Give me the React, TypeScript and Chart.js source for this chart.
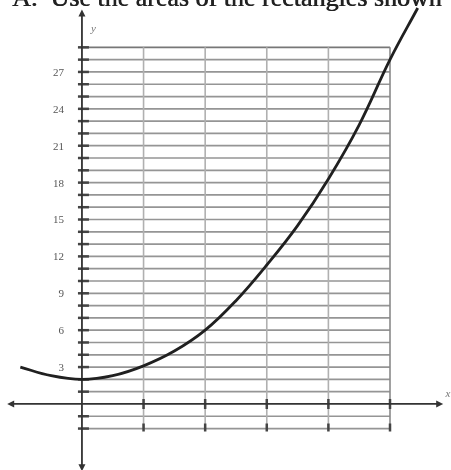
import React, { useEffect, useRef } from "react";
import { Chart, registerables } from "chart.js";

Chart.register(...registerables);

// Curve values
const curveX = [-1, -0.5, 0, 0.5, 1, 1.5, 2, 2.5, 3, 3.5, 4, 4.5, 5, 5.45];
const curveY = [3.0, 2.3, 2.0, 2.3, 3.1, 4.3, 6.0, 8.4, 11.3, 14.5, 18.3, 22.7, 28.0, 32.2];

// Graph-paper grid and ticks
const gridXValues = [0, 1, 2, 3, 4, 5];
const gridYValues = Array.from({ length: 32 }, (_, i) => i - 2); // -2 .. 29
const yTickLabels = [3, 6, 9, 12, 15, 18, 21, 24, 27];
const xTickValues = [1, 2, 3, 4, 5];
const titleText = "A.  Use the areas of the rectangles shown";

const paperPlugin = {
  id: "paper",
  beforeDatasetsDraw(chart: any) {
    const ctx = chart.ctx;
    const xs = chart.scales.x;
    const ys = chart.scales.y;
    const X = (v: number) => xs.getPixelForValue(v);
    const Y = (v: number) => ys.getPixelForValue(v);
    ctx.save();
    ctx.fillStyle = "#ffffff";
    ctx.fillRect(0, 0, chart.width, chart.height);
    ctx.filter = "blur(0.5px)";

    // title (cut off at the top)
    ctx.fillStyle = "#222";
    ctx.font = "26px 'Liberation Serif'";
    ctx.textAlign = "left";
    ctx.textBaseline = "alphabetic";
    ctx.fillText(titleText, 12, 6);
    ctx.fillText(titleText, 12.6, 6);

    const gx0 = X(gridXValues[0]);
    const gx1 = X(gridXValues[gridXValues.length - 1]);
    const gy0 = Y(gridYValues[0]);
    const gy1 = Y(gridYValues[gridYValues.length - 1]);

    // horizontal lines
    gridYValues.forEach((v, i) => {
      if (v === 0) return;
      const y = Y(v);
      ctx.strokeStyle = i === gridYValues.length - 1 ? "#777" : "#959595";
      ctx.lineWidth = 1.7;
      ctx.beginPath();
      ctx.moveTo(gx0, y);
      ctx.lineTo(gx1, y);
      ctx.stroke();
      // dark tick on the y-axis
      ctx.strokeStyle = "#444";
      ctx.lineWidth = 2.5;
      ctx.beginPath();
      ctx.moveTo(X(0) - 4, y);
      ctx.lineTo(X(0) + 7, y);
      ctx.stroke();
    });

    // vertical lines
    gridXValues.forEach((v, i) => {
      if (v === 0) return;
      const x = X(v);
      ctx.strokeStyle = i === gridXValues.length - 1 ? "#8a8a8a" : "#b0b0b0";
      ctx.lineWidth = 1.6;
      ctx.beginPath();
      ctx.moveTo(x, gy0);
      ctx.lineTo(x, gy1);
      ctx.stroke();
    });

    // x ticks
    ctx.strokeStyle = "#444";
    ctx.lineWidth = 2.5;
    xTickValues.forEach((v) => {
      const x = X(v);
      ctx.beginPath();
      ctx.moveTo(x, Y(0) - 5);
      ctx.lineTo(x, Y(0) + 5);
      ctx.moveTo(x, Y(-2) - 5);
      ctx.lineTo(x, Y(-2) + 3);
      ctx.stroke();
    });

    // axes
    ctx.strokeStyle = "#333";
    ctx.lineWidth = 1.8;
    ctx.beginPath();
    ctx.moveTo(X(-1.12), Y(0));
    ctx.lineTo(X(5.78), Y(0));
    ctx.moveTo(X(0), Y(-5));
    ctx.lineTo(X(0), Y(31.7));
    ctx.stroke();

    // arrow heads
    ctx.fillStyle = "#333";
    const arrow = (x: number, y: number, dx: number, dy: number) => {
      const px = -dy, py = dx;
      ctx.beginPath();
      ctx.moveTo(x + dx * 7, y + dy * 7);
      ctx.lineTo(x + px * 3.5, y + py * 3.5);
      ctx.lineTo(x - px * 3.5, y - py * 3.5);
      ctx.closePath();
      ctx.fill();
    };
    arrow(X(-1.1), Y(0), -1, 0);
    arrow(X(5.75), Y(0), 1, 0);
    arrow(X(0), Y(31.5), 0, -1);
    arrow(X(0), Y(-4.9), 0, 1);

    // y tick labels
    ctx.fillStyle = "#555";
    ctx.font = "11px 'Liberation Serif'";
    ctx.textAlign = "right";
    ctx.textBaseline = "middle";
    yTickLabels.forEach((v) => {
      ctx.fillText(String(v), X(0) - 18, Y(v) + 1);
    });

    // axis names
    ctx.font = "italic 11px 'Liberation Serif'";
    ctx.textAlign = "left";
    ctx.fillStyle = "#777";
    ctx.fillText("y", X(0) + 9, Y(30.5));
    ctx.fillText("x", X(5.9), Y(0.8));

    ctx.restore();
  },
};

export default function App() {
  const ref = useRef<HTMLCanvasElement | null>(null);
  useEffect(() => {
    document.body.style.margin = "0";
    if (!ref.current) return;
    const chart = new Chart(ref.current, {
      type: "scatter",
      data: {
        datasets: [
          {
            data: curveX.map((x, i) => ({ x, y: curveY[i] })),
            showLine: true,
            borderColor: "#202020",
            borderWidth: 2.8,
            pointRadius: 0,
            tension: 0.4,
            fill: false,
          },
        ],
      },
      options: {
        animation: false,
        responsive: false,
        devicePixelRatio: 1,
        layout: { padding: 0 },
        plugins: { legend: { display: false }, tooltip: { enabled: false } },
        scales: {
          x: { type: "linear", min: -1.33, max: 5.99, display: false },
          y: { type: "linear", min: -5.37, max: 32.85, display: false },
        },
      },
      plugins: [paperPlugin],
    });
    return () => chart.destroy();
  }, []);
  return <canvas ref={ref} width={451} height={470} style={{ display: "block" }} />;
}
